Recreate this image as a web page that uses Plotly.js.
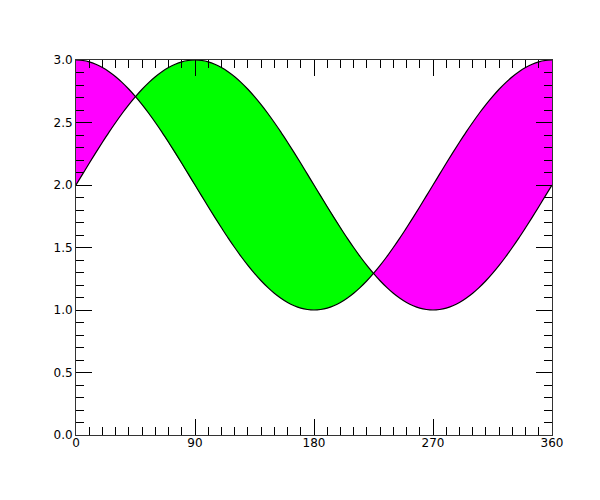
<!DOCTYPE html>
<html><head><meta charset="utf-8">
<script src="https://cdn.plot.ly/plotly-3.0.1.min.js"></script>
<style>html,body{margin:0;padding:0;background:#fff}</style>
</head><body><div id="chart" style="width:600px;height:500px"></div>
<script>
// angle in degrees, every 5
var angles = [0,5,10,15,20,25,30,35,40,45,50,55,60,65,70,75,80,85,90,
  95,100,105,110,115,120,125,130,135,140,145,150,155,160,165,170,175,180,
  185,190,195,200,205,210,215,220,225,230,235,240,245,250,255,260,265,270,
  275,280,285,290,295,300,305,310,315,320,325,330,335,340,345,350,355,360];
// curve A (starts 2, peak at 90)
var curveA = [2.000,2.087,2.174,2.259,2.342,2.423,2.500,2.574,2.643,2.707,2.766,2.819,2.866,2.906,2.940,2.966,2.985,2.996,3.000,
  2.996,2.985,2.966,2.940,2.906,2.866,2.819,2.766,2.707,2.643,2.574,2.500,2.423,2.342,2.259,2.174,2.087,2.000,
  1.913,1.826,1.741,1.658,1.577,1.500,1.426,1.357,1.293,1.234,1.181,1.134,1.094,1.060,1.034,1.015,1.004,1.000,
  1.004,1.015,1.034,1.060,1.094,1.134,1.181,1.234,1.293,1.357,1.426,1.500,1.577,1.658,1.741,1.826,1.913,2.000];
// curve B (starts 3, minimum at 180)
var curveB = [3.000,2.996,2.985,2.966,2.940,2.906,2.866,2.819,2.766,2.707,2.643,2.574,2.500,2.423,2.342,2.259,2.174,2.087,2.000,
  1.913,1.826,1.741,1.658,1.577,1.500,1.426,1.357,1.293,1.234,1.181,1.134,1.094,1.060,1.034,1.015,1.004,1.000,
  1.004,1.015,1.034,1.060,1.094,1.134,1.181,1.234,1.293,1.357,1.426,1.500,1.577,1.658,1.741,1.826,1.913,2.000,
  2.087,2.174,2.259,2.342,2.423,2.500,2.574,2.643,2.707,2.766,2.819,2.866,2.906,2.940,2.966,2.985,2.996,3.000];
var xTicks = [0,90,180,270,360];
var yTicks = [0.0,0.5,1.0,1.5,2.0,2.5,3.0];
var magenta = '#ff00ff', green = '#00ff00';

function band(i0, i1, color){
  var xs = [], ys = [];
  for (var i=i0;i<=i1;i++){ xs.push(angles[i]); ys.push(curveA[i]); }
  for (var j=i1;j>=i0;j--){ xs.push(angles[j]); ys.push(curveB[j]); }
  return {x:xs, y:ys, type:'scatter', mode:'lines', fill:'toself', fillcolor:color,
    line:{width:0, color:color}, hoverinfo:'skip', showlegend:false};
}
// find crossing indices
var cross = [];
for (var i=0;i<angles.length;i++){ if (Math.abs(curveA[i]-curveB[i])<1e-9) cross.push(i); }
var segs = [0].concat(cross).concat([angles.length-1]);
var traces = [];
for (var k=0;k<segs.length-1;k++){
  var a=segs[k], b=segs[k+1];
  var mid = Math.floor((a+b)/2);
  traces.push(band(a,b, curveA[mid]>curveB[mid] ? green : magenta));
}
traces.push({x:angles, y:curveA, type:'scatter', mode:'lines', line:{color:'#000', width:1.2, shape:'spline'}, showlegend:false});
traces.push({x:angles, y:curveB, type:'scatter', mode:'lines', line:{color:'#000', width:1.2, shape:'spline'}, showlegend:false});

var axisCommon = {
  showgrid:false, zeroline:false, showline:true, linecolor:'#333', linewidth:1,
  mirror:'allticks', ticks:'inside', ticklen:16, tickcolor:'#000', tickwidth:1,
  tickfont:{family:'DejaVu Sans', size:12, color:'#000'}
};
var layout = {
  width:600, height:500,
  margin:{l:76, r:48, t:60, b:65},
  paper_bgcolor:'#fff', plot_bgcolor:'#fff',
  xaxis: Object.assign({}, axisCommon, {range:[0,360], tickvals:xTicks, ticktext:xTicks.map(String),
    ticklabelstandoff:-3,
    minor:{dtick:10, ticks:'inside', ticklen:8, tickcolor:'#000', tickwidth:1}}),
  yaxis: Object.assign({}, axisCommon, {range:[0,3], tickvals:yTicks, ticktext:yTicks.map(function(v){return v.toFixed(1);}),
    minor:{dtick:0.1, ticks:'inside', ticklen:8, tickcolor:'#000', tickwidth:1}}),
  showlegend:false
};
Plotly.newPlot('chart', traces, layout, {staticPlot:true, displayModeBar:false});
</script></body></html>
